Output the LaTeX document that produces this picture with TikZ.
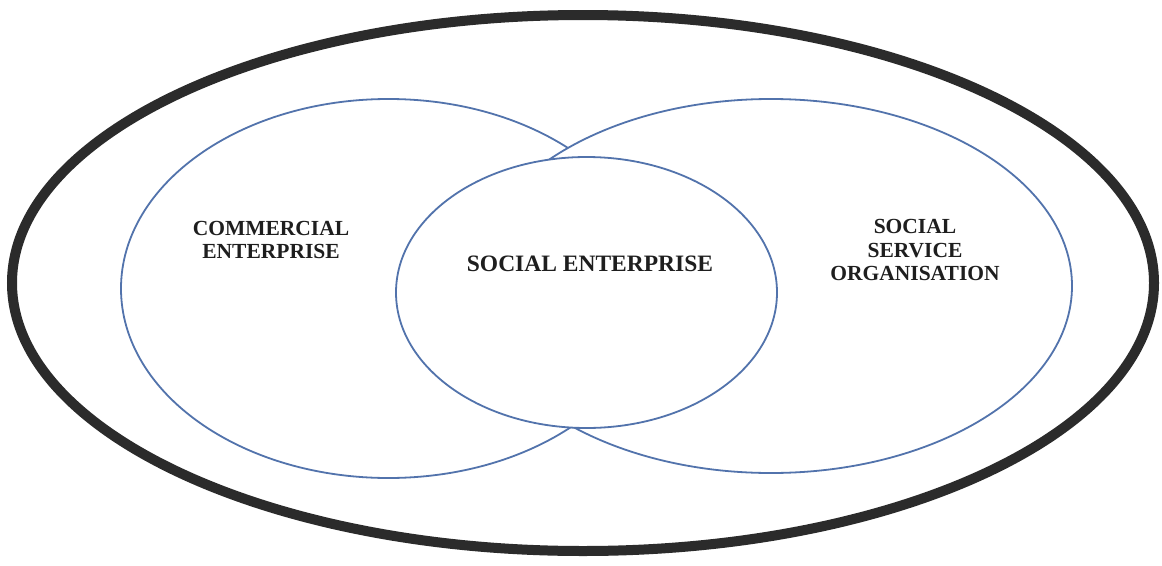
\documentclass[tikz,border=0pt]{standalone}
\usepackage{fontspec}
\setmainfont{Liberation Serif}
\definecolor{ringblue}{HTML}{5273AC}
\definecolor{outerink}{HTML}{2B2B2B}
\definecolor{textink}{HTML}{1E1E1E}
\begin{document}
\begin{tikzpicture}[x=1pt,y=-1pt,
  setline/.style={draw=ringblue,line width=1.8pt,fill=white},
  label/.style={font=\fontsize{21.5}{23.5}\selectfont\bfseries,text=textink,align=center,inner sep=0pt}]
\useasboundingbox (0,0) rectangle (1162,565);
\fill[white] (0,0) rectangle (1162,565);
\draw[outerink,line width=10pt] (583,283) ellipse [x radius=571, y radius=268];
\draw[setline] (388.5,288.5) ellipse [x radius=267.5, y radius=189.5];
\draw[setline] (771,286) ellipse [x radius=301, y radius=187];
\draw[setline] (586.5,292.5) ellipse [x radius=190.5, y radius=135.5];
\node[label] (commercial) at (271,240) {COMMERCIAL\\ENTERPRISE};
\node[label,font=\fontsize{23.5}{25}\selectfont\bfseries] (social) at (590,264) {SOCIAL ENTERPRISE};
\node[label] (service) at (915,250) {SOCIAL\\SERVICE\\ORGANISATION};
\end{tikzpicture}
\end{document}
